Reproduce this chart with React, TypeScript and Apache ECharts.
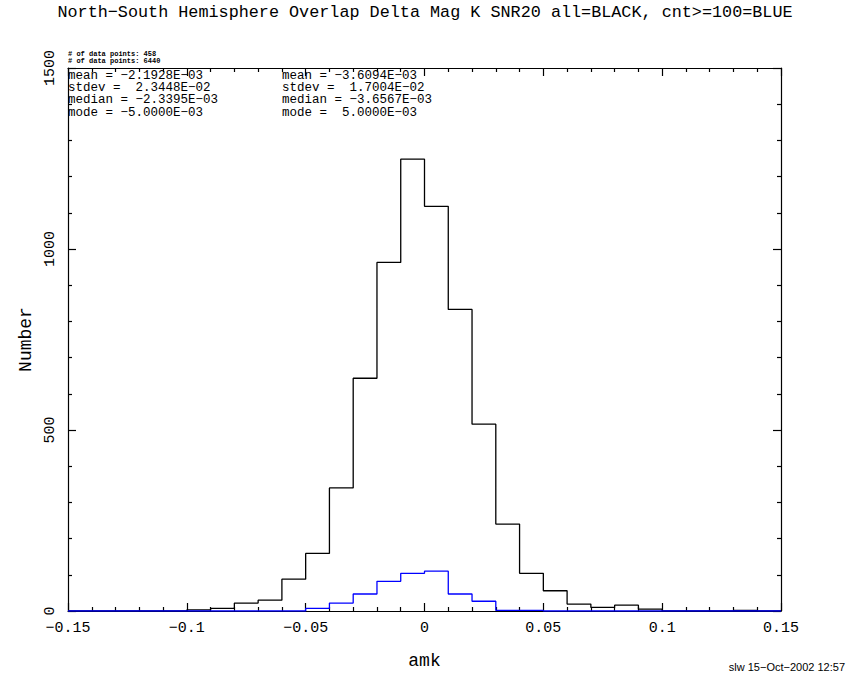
import React, { useEffect, useRef } from "react";
import * as echarts from "echarts";

const BIN_LEFT = [
  -0.15, -0.14, -0.13, -0.12, -0.11, -0.1, -0.09, -0.08, -0.07, -0.06,
  -0.05, -0.04, -0.03, -0.02, -0.01, 0.0, 0.01, 0.02, 0.03, 0.04,
  0.05, 0.06, 0.07, 0.08, 0.09, 0.1, 0.11, 0.12, 0.13, 0.14,
];
const BIN_WIDTH = 0.01;
const ALL_COUNTS = [
  0, 0, 0, 0, 0, 3, 7, 22, 30, 88,
  159, 340, 643, 963, 1248, 1118, 833, 516, 240, 104,
  56, 19, 10, 16, 5, 0, 0, 0, 2, 0,
];
const CNT100_COUNTS = [
  0, 0, 0, 0, 0, 0, 0, 0, 0, 0,
  7, 22, 47, 82, 104, 110, 47, 27, 2, 2,
  0, 0, 0, 0, 0, 0, 0, 0, 0, 0,
];
const X_MIN = -0.15;
const X_MAX = 0.15;
const X_STEP = 0.05;
const Y_MIN = 0;
const Y_MAX = 1500;
const Y_STEP = 500;

const TITLE = "North\u2212South Hemisphere Overlap Delta Mag K SNR20 all=BLACK, cnt>=100=BLUE";
const NPOINTS_LINES = ["# of data points: 458", "# of data points: 6440"];
const STATS_ALL = [
  "mean = \u22122.1928E\u221203",
  "stdev = \u00a02.3448E\u221202",
  "median = \u22122.3395E\u221203",
  "mode = \u22125.0000E\u221203",
];
const STATS_CNT = [
  "mean = \u22123.6094E\u221203",
  "stdev = \u00a01.7004E\u221202",
  "median = \u22123.6567E\u221203",
  "mode = \u00a05.0000E\u221203",
];
const STAMP = "slw 15\u2212Oct\u22122002 12:57";
const X_NAME = "amk";
const Y_NAME = "Number";

const MONO = "'Liberation Mono', 'DejaVu Sans Mono', monospace";

function stepData(counts: number[]) {
  const pts: [number, number][] = [[BIN_LEFT[0], 0]];
  counts.forEach((c, i) => pts.push([BIN_LEFT[i], c]));
  pts.push([BIN_LEFT[BIN_LEFT.length - 1] + BIN_WIDTH, 0]);
  return pts;
}

const fmtX = (v: number) => String(Math.round(v * 100) / 100).replace("-", "\u2212");
const fmtY = (v: number) => String(Math.round(v));

export default function App() {
  const ref = useRef<HTMLDivElement>(null);
  useEffect(() => {
    if (!ref.current) return;
    const chart = echarts.init(ref.current, undefined, { renderer: "svg" });
    const mkAxis = () => ({
      axisLine: { show: true, onZero: false, lineStyle: { color: "#000", width: 1.2 } },
      axisTick: { show: true, inside: true, length: 8, lineStyle: { color: "#000", width: 1.2 } },
      minorTick: { show: true, splitNumber: 5, length: 4, lineStyle: { color: "#000", width: 1.2 } },
      splitLine: { show: false },
      minorSplitLine: { show: false },
    });
    const statsGraphics: any[] = [];
    const rowTop = 69;
    const rowGap = 12.4;
    STATS_ALL.forEach((s, i) =>
      statsGraphics.push({
        type: "text",
        left: 68,
        top: rowTop + i * rowGap,
        style: { text: s, font: `12.5px ${MONO}`, fill: "#000" },
      })
    );
    STATS_CNT.forEach((s, i) =>
      statsGraphics.push({
        type: "text",
        left: 282,
        top: rowTop + i * rowGap,
        style: { text: s, font: `12.5px ${MONO}`, fill: "#000" },
      })
    );
    NPOINTS_LINES.forEach((s, i) =>
      statsGraphics.push({
        type: "text",
        left: 68,
        top: 50 + i * 7,
        style: { text: s, font: `bold 7px ${MONO}`, fill: "#000" },
      })
    );
    chart.setOption({
      animation: false,
      backgroundColor: "#fff",
      grid: { left: 68, right: 69, top: 68, bottom: 69, containLabel: false },
      xAxis: [
        {
          ...mkAxis(),
          type: "value",
          min: X_MIN,
          max: X_MAX,
          interval: X_STEP,
          position: "bottom",
          name: X_NAME,
          nameLocation: "middle",
          nameGap: 41,
          nameTextStyle: { fontFamily: MONO, fontSize: 18, color: "#000" },
          axisLabel: { show: true, margin: 10, formatter: fmtX, fontFamily: MONO, fontSize: 15, color: "#000" },
        },
        {
          ...mkAxis(),
          type: "value",
          min: X_MIN,
          max: X_MAX,
          interval: X_STEP,
          position: "top",
          axisLabel: { show: false },
        },
      ],
      yAxis: [
        {
          ...mkAxis(),
          type: "value",
          min: Y_MIN,
          max: Y_MAX,
          interval: Y_STEP,
          position: "left",
          name: Y_NAME,
          nameLocation: "middle",
          nameGap: 30,
          nameRotate: 90,
          nameTextStyle: { fontFamily: MONO, fontSize: 18, color: "#000" },
          axisLabel: { show: true, rotate: 90, margin: 10, formatter: fmtY, fontFamily: MONO, fontSize: 15, color: "#000" },
        },
        {
          ...mkAxis(),
          type: "value",
          min: Y_MIN,
          max: Y_MAX,
          interval: Y_STEP,
          position: "right",
          axisLabel: { show: false },
        },
      ],
      series: [
        {
          type: "line",
          step: "end",
          symbol: "none",
          data: stepData(ALL_COUNTS),
          lineStyle: { color: "#000", width: 1.3 },
          z: 3,
        },
        {
          type: "line",
          step: "end",
          symbol: "none",
          data: stepData(CNT100_COUNTS),
          lineStyle: { color: "#0000ff", width: 1.3 },
          z: 4,
        },
      ],
      graphic: [
        {
          type: "text",
          left: "center",
          top: 4,
          style: { text: TITLE, font: `16.8px ${MONO}`, fill: "#000" },
        },
        ...statsGraphics,
        {
          type: "text",
          right: 5,
          top: 661,
          style: { text: STAMP, font: "11px 'Liberation Sans', Arial, sans-serif", fill: "#000" },
        },
      ],
    });
    return () => chart.dispose();
  }, []);
  return (
    <div
      ref={ref}
      style={{ position: "fixed", left: 0, top: 0, width: 850, height: 680, background: "#fff" }}
    />
  );
}
